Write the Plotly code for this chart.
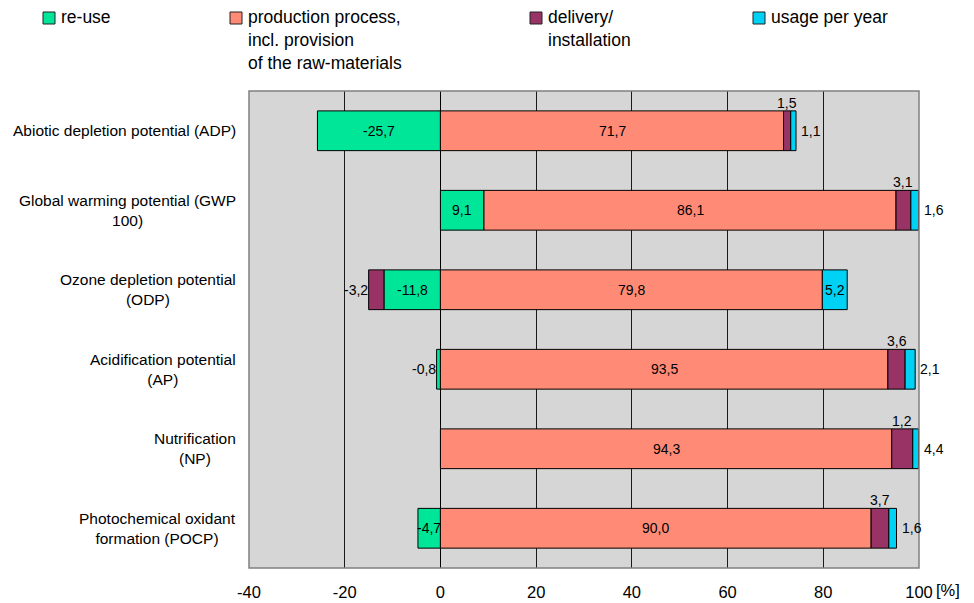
import plotly.graph_objects as go

# Impact categories (top to bottom) and their axis labels
keys = ["ADP", "GWP", "ODP", "AP", "NP", "POCP"]
category_labels = [
    "Abiotic depletion potential (ADP)",
    "Global warming potential (GWP<br>100)",
    "Ozone depletion potential<br>(ODP)",
    "Acidification potential<br>(AP)",
    "Nutrification<br>(NP)",
    "Photochemical oxidant<br>formation (POCP)",
]

# Share of each life-cycle phase in [%]
reuse = [-25.7, 9.1, -11.8, -0.8, None, -4.7]
production = [71.7, 86.1, 79.8, 93.5, 94.3, 90.0]
delivery = [1.5, 3.1, -3.2, 3.6, 4.4, 3.7]
usage = [1.1, 1.6, 5.2, 2.1, 1.2, 1.6]

x_ticks = [-40, -20, 0, 20, 40, 60, 80, 100]

series = [
    ("re-use", reuse, "#00E699",
     ["in", "in", "in", "left", None, "in"]),
    ("production process,<br>incl. provision<br>of the raw-materials", production, "#FF8B77",
     ["in", "in", "in", "in", "in", "in"]),
    ("delivery/<br>installation", delivery, "#993366",
     ["top", "top", "left", "top", "right", "top"]),
    ("usage per year", usage, "#00D2F5",
     ["right", "right", "in", "right", "top", "right"]),
]

FONT = "Liberation Sans, Arial, sans-serif"

fig = go.Figure()
for name, vals, color, _ in series:
    fig.add_trace(go.Bar(
        y=keys, x=vals, orientation="h", name=name,
        marker=dict(color=color, line=dict(color="#000000", width=1)),
        showlegend=False, hoverinfo="x+y",
    ))


def fmt(v):
    return f"{v:.1f}".replace(".", ",")


# Segment extents, stacked the same way as barmode="relative"
annotations = []
for i, key in enumerate(keys):
    pos, neg = 0.0, 0.0
    seg = {}
    for name, vals, color, place in series:
        v = vals[i]
        if v is None:
            continue
        if v >= 0:
            a, b = pos, pos + v
            pos = b
        else:
            a, b = neg + v, neg
            neg = a
        seg[name] = (a, b, v, place[i])
    stack_end = pos
    deliv_mid = None
    for name, (a, b, v, p) in seg.items():
        if name.startswith("delivery"):
            deliv_mid = (a + b) / 2
    for name, (a, b, v, p) in seg.items():
        base = dict(text=fmt(v), y=key, xref="x", yref="y", showarrow=False,
                    font=dict(family=FONT, size=14, color="#000000"))
        if p == "in":
            annotations.append(dict(base, x=(a + b) / 2, xanchor="center", yanchor="middle"))
        elif p == "left":
            annotations.append(dict(base, x=a, xanchor="right", yanchor="middle", xshift=1))
        elif p == "right":
            annotations.append(dict(base, x=stack_end, xanchor="left", yanchor="middle", xshift=3))
        elif p == "top":
            annotations.append(dict(base, x=deliv_mid, xanchor="center", yanchor="middle", yshift=28))

# Category labels, centred line by line
for key, lab in zip(keys, category_labels):
    annotations.append(dict(
        text=lab, x=0, xref="paper", y=key, yref="y", xanchor="right", yanchor="middle",
        xshift=-11, align="center", showarrow=False,
        font=dict(family=FONT, size=15.5, color="#000000"),
    ))

# Unit next to the last tick label
annotations.append(dict(
    text="[%]", x=100, xref="x", y=0, yref="paper", xanchor="left", yanchor="middle",
    xshift=15, yshift=-22, showarrow=False, font=dict(family=FONT, size=16.5, color="#000000"),
))

# Legend drawn above the plot area
W, H = 974, 603
L, R, T, B = 249, 55, 91, 35
pw, ph = W - L - R, H - T - B


def px_x(px):
    return (px - L) / pw


def px_y(py):
    return (H - B - py) / ph


legend_x = [43, 230, 530, 753]
shapes = []
for (name, vals, color, _), sx in zip(series, legend_x):
    shapes.append(dict(type="rect", xref="paper", yref="paper",
                       x0=px_x(sx), x1=px_x(sx + 12), y0=px_y(24), y1=px_y(12),
                       fillcolor=color, line=dict(color="#222222", width=1)))
    for j, line in enumerate(name.split("<br>")):
        annotations.append(dict(
            text=line, x=px_x(sx + 16), y=px_y(17 + 23 * j), xref="paper", yref="paper",
            xanchor="left", yanchor="middle", showarrow=False,
            font=dict(family=FONT, size=17.5, color="#000000"),
        ))

# Plot area frame
shapes.append(dict(type="rect", xref="paper", yref="paper", x0=0, x1=1, y0=0, y1=1,
                   line=dict(color="#808080", width=1.5), fillcolor="rgba(0,0,0,0)", layer="above"))

fig.update_layout(
    width=W, height=H,
    margin=dict(l=L, r=R, t=T, b=B, autoexpand=False),
    barmode="relative", bargap=0.5,
    paper_bgcolor="#FFFFFF", plot_bgcolor="#D6D6D6",
    font=dict(family=FONT, size=15, color="#000000"),
    xaxis=dict(
        range=[-40, 100], tickvals=x_ticks, ticktext=[str(t) for t in x_ticks],
        showgrid=True, gridcolor="#1a1a1a", gridwidth=1,
        zeroline=True, zerolinecolor="#000000", zerolinewidth=1,
        showline=False, ticks="", ticklabelstandoff=12, automargin=False,
        tickfont=dict(family=FONT, size=16.5, color="#000000"),
        fixedrange=True,
    ),
    yaxis=dict(
        categoryorder="array", categoryarray=keys, autorange="reversed",
        showticklabels=False, showgrid=False, zeroline=False, ticks="", fixedrange=True,
        automargin=False,
    ),
    annotations=annotations,
    shapes=shapes,
)

fig.write_html("out.html")
